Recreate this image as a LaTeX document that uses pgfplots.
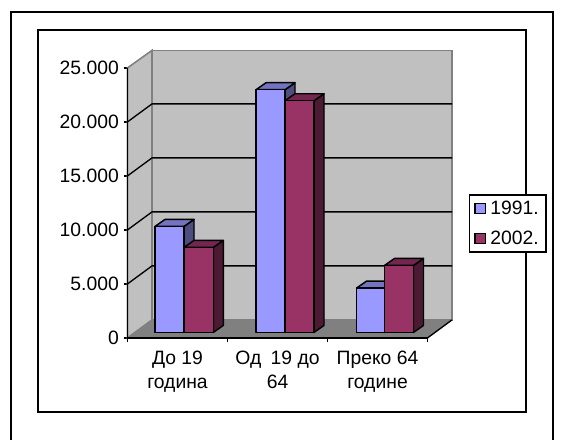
\documentclass[border=0pt]{standalone}
\usepackage{fontspec}
\setmainfont{Liberation Sans}
\usepackage{pgfplots}
\pgfplotsset{compat=1.18}
\definecolor{wall}{HTML}{C0C0C0}
\definecolor{floorc}{HTML}{808080}
\definecolor{blueF}{HTML}{9999FF}
\definecolor{blueT}{HTML}{7373BF}
\definecolor{blueS}{HTML}{4D4D80}
\definecolor{redF}{HTML}{993366}
\definecolor{redT}{HTML}{732650}
\definecolor{redS}{HTML}{4D1A33}
\tikzset{x=0.75pt,y=0.75pt}
% one 3D bar: x left, x right, value, colour prefix
% depth is 10 px across and 7 px up (648 in value units), bar foot sits 5.5 px above the axis (509)
\newcommand{\barthree}[4]{%
  \edef\ybase{509}%
  \edef\ytop{\the\numexpr#3+509\relax}%
  \edef\ytopb{\the\numexpr#3+509+648\relax}%
  \edef\ybaseb{1157}%
  \pgfmathsetmacro{\xr}{#2+10}%
  \pgfmathsetmacro{\xl}{#1+10}%
  \addplot[draw=black,line width=1.1pt,line join=round,fill=#4S] coordinates {(#2,\ybase) (\xr,\ybaseb) (\xr,\ytopb) (#2,\ytop)} --cycle;
  \addplot[draw=black,line width=1.1pt,line join=round,fill=#4T] coordinates {(#1,\ytop) (\xl,\ytopb) (\xr,\ytopb) (#2,\ytop)} --cycle;
  \addplot[draw=black,line width=1.1pt,line join=round,fill=#4F] coordinates {(#1,\ybase) (#1,\ytop) (#2,\ytop) (#2,\ybase)} --cycle;
}
\newcommand{\gridat}[2]{%
  \addplot[black,line width=1pt] coordinates {(0,#1) (24.5,#2) (324.5,#2)};
}
\begin{document}
\begin{tikzpicture}
\path[use as bounding box] (0,0) rectangle (580,439);
\draw[line width=1.5pt] (10.5,-5) -- (10.5,426.5) -- (553,426.5) -- (553,-5);
\draw[line width=1.1pt] (38,27) rectangle (526,409);
\begin{axis}[
  at={(127.5,93.6)},anchor=origin,
  scale only axis,width=243.75pt,height=215.625pt,
  xmin=0,xmax=325,ymin=0,ymax=26620,
  clip=false,
  axis x line*=bottom,axis y line*=left,
  axis line style={draw=none},
  tick align=outside,
  xtick={50,150,250},
  xticklabels={{До 19\\година},{Од\hspace{3pt} 19 до\\64},{Преко 64\\године}},
  minor xtick={0,100,200,300},
  major x tick style={draw=none},
  minor x tick style={black,line width=1pt},
  y tick style={black,line width=1pt},
  minor tick length=3pt,
  major tick length=3pt,
  ytick={0,5000,10000,15000,20000,25000},
  scaled y ticks=false,
  /pgf/number format/.cd,1000 sep={.},assume math mode=true,/pgfplots/.cd,
  tick label style={font=\fontsize{14.5pt}{18pt}\selectfont},
  xticklabel style={align=center,yshift=-3pt},
  legend style={at={(axis cs:341.5,13287)},anchor=north west,
    font=\fontsize{14.5pt}{18pt}\selectfont,draw=black,line width=1pt,
    row sep=6.5pt,inner xsep=3.5pt,inner ysep=2.5pt},
  legend image code/.code={\draw[#1,line width=0.9pt] (1.5pt,-3.7pt) rectangle (9.5pt,3.7pt);\path (10.5pt,0pt);},
]
% legend entries only
\addlegendimage{fill=blueF,draw=black}
\addlegendentry{1991.}
\addlegendimage{fill=redF,draw=black}
\addlegendentry{2002.}
% walls and floor
\addplot[draw=floorc,line width=1.2pt,fill=wall] coordinates {(0,0) (24.5,1667) (24.5,26620) (0,25000)} --cycle;
\addplot[draw=floorc,line width=1.2pt,fill=wall] coordinates {(24.5,1667) (24.5,26620) (324.5,26620) (324.5,1667)} --cycle;
\addplot[draw=floorc,line width=0.5pt,fill=floorc] coordinates {(0,0) (24.5,1667) (324.5,1667) (300,0)} --cycle;
% gridlines
\gridat{5000}{6667}
\gridat{10000}{11667}
\gridat{15000}{16667}
\gridat{20000}{21667}
% axis lines
\addplot[black,line width=1.1pt] coordinates {(0,25000) (0,0) (300,0)};
\addplot[black,line width=1pt] coordinates {(300,0) (324.5,1667)};
% bars, group by group
\barthree{27.5}{56.5}{9815}{blue}
\barthree{56.5}{85.8}{7870}{red}
\barthree{128.5}{157.5}{22470}{blue}
\barthree{157.5}{186.5}{21450}{red}
\barthree{229}{257}{4100}{blue}
\barthree{257}{286}{6200}{red}
\end{axis}
\end{tikzpicture}
\end{document}
